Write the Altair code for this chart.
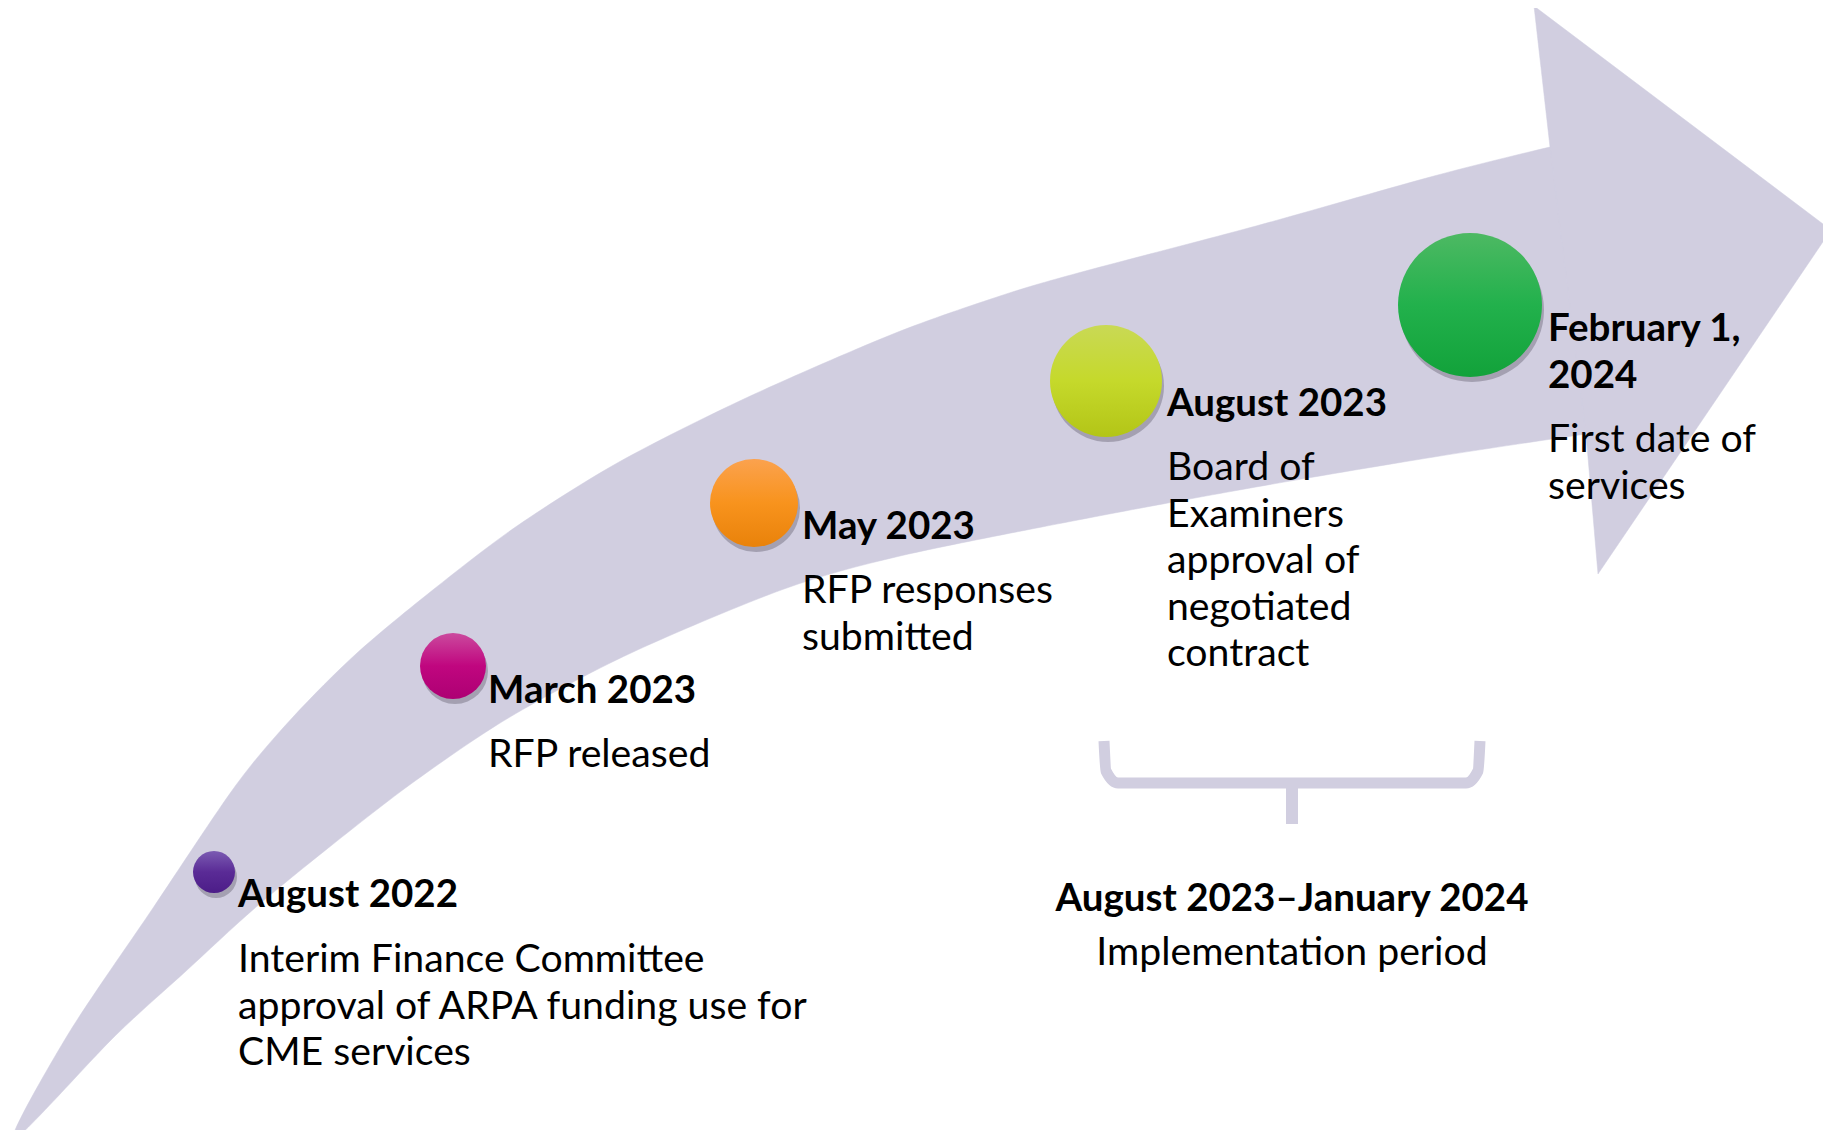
import altair as alt
import pandas as pd

# ---- values (pixel units of the 1831x1143 image) ----
# arrow shaft: upper edge from the tail to the head, then the lower edge back to the tail
shaft_x = [13, 67, 153, 236, 293, 357, 434, 517, 619, 746, 893, 1000, 1078, 1256, 1434, 1550, 1620,
           1620, 1586, 1434, 1256, 1078, 900, 784, 631, 510, 415, 332, 255, 185, 115]
shaft_y = [1140, 1036, 908, 785, 717, 653, 589, 526, 462, 398, 334, 296, 273, 226, 176, 147, 132,
           430, 434, 457, 487, 520, 556, 589, 653, 717, 781, 845, 908, 972, 1036]
# arrowhead
head_x = [1550, 1534, 1831, 1598, 1586]
head_y = [147, 6, 230, 574, 434]

# milestones
dates = ["August 2022", "March 2023", "May 2023", "August 2023", "February 1,\n2024"]
descriptions = [
    "Interim Finance Committee\napproval of ARPA funding use for\nCME services",
    "RFP released",
    "RFP responses\nsubmitted",
    "Board of\nExaminers\napproval of\nnegotiated\ncontract",
    "First date of\nservices",
]
circle_x = [214, 453, 754, 1106, 1470]
circle_y = [872, 666, 503, 381, 305]
circle_r = [21, 33, 44, 56, 72]
label_x = [238, 488, 802, 1167, 1548]
label_y = [907, 703, 539, 416, 341]
desc_y = [972, 767, 603, 480, 452]
circle_stops = [
    ["#7B5BB2", "#5A2B96", "#4C1D88"],
    ["#CB4A9E", "#C0067F", "#AD0073"],
    ["#FBA24E", "#F8931D", "#E9820A"],
    ["#C9D955", "#C5D92B", "#B3C517"],
    ["#4DB963", "#22B14C", "#12A23A"],
]

# implementation-period brace
brace_x = [1104, 1106, 1118, 1466, 1478, 1480]
brace_y = [741, 771, 783, 783, 771, 741]
stem_x = [1292, 1292]
stem_y = [783, 824]
period_title = "August 2023\u2013January 2024"
period_text = "Implementation period"
period_x = 1292
period_title_y = 911
period_text_y = 965

ARROW = "#D1CEE0"
FONT = "Lato"
FS_BOLD = 38.5
FS = 39.2

# ---- scales: picture pixels -> plot pixels (page margin 8px) ----
W, H = 1815, 1122
xs = alt.Scale(domain=[8, 8 + W], nice=False, zero=False)
ys = alt.Scale(domain=[8, 8 + H], nice=False, zero=False, reverse=True)


def X(f):
    return alt.X(f, type="quantitative", scale=xs, axis=None)


def Y(f):
    return alt.Y(f, type="quantitative", scale=ys, axis=None)


shaft_df = pd.DataFrame({"x": shaft_x, "y": shaft_y, "o": range(len(shaft_x))})
shaft = alt.Chart(shaft_df).mark_line(
    fill=ARROW, stroke=ARROW, strokeWidth=0.5, interpolate="cardinal-closed", tension=0.15
).encode(x=X("x"), y=Y("y"), order="o:Q")

head_df = pd.DataFrame({"x": head_x, "y": head_y, "o": range(len(head_x))})
head = alt.Chart(head_df).mark_line(
    fill=ARROW, stroke=ARROW, strokeWidth=0.5, interpolate="linear-closed"
).encode(x=X("x"), y=Y("y"), order="o:Q")

brace_df = pd.DataFrame({"x": brace_x, "y": brace_y, "o": range(len(brace_x))})
brace = alt.Chart(brace_df).mark_line(
    color=ARROW, strokeWidth=11, strokeJoin="round", strokeCap="butt", interpolate="monotone"
).encode(x=X("x"), y=Y("y"), order="o:Q")
stem_df = pd.DataFrame({"x": stem_x, "y": stem_y, "o": range(len(stem_x))})
stem = alt.Chart(stem_df).mark_line(color=ARROW, strokeWidth=12).encode(
    x=X("x"), y=Y("y"), order="o:Q"
)

ev = pd.DataFrame({
    "date": dates, "desc": descriptions,
    "cx": circle_x, "cy": circle_y, "r": circle_r,
    "lx": label_x, "ly": label_y, "dy": desc_y,
})
ev["size"] = (2 * ev["r"]) ** 2  # symbol size = square of the diameter
ev["i"] = range(len(ev))

layers = [shaft, head, brace, stem]

shadow = alt.Chart(ev).mark_circle(
    color="#2E2A3A", opacity=0.28, xOffset=2, yOffset=5
).encode(x=X("cx"), y=Y("cy"), size=alt.Size("size:Q", scale=None, legend=None))
layers.append(shadow)

for i, stops in enumerate(circle_stops):
    grad = alt.Gradient(
        gradient="linear",
        stops=[alt.GradientStop(offset=0, color=stops[0]),
               alt.GradientStop(offset=0.5, color=stops[1]),
               alt.GradientStop(offset=1, color=stops[2])],
        x1=0, x2=0, y1=0, y2=1,
    )
    c = alt.Chart(ev).transform_filter(alt.datum.i == i).mark_circle(
        color=grad, opacity=1
    ).encode(x=X("cx"), y=Y("cy"), size=alt.Size("size:Q", scale=None, legend=None))
    layers.append(c)

heads = alt.Chart(ev).mark_text(
    align="left", baseline="alphabetic", font=FONT, fontSize=FS_BOLD, fontWeight="bold",
    lineBreak="\n", lineHeight=47, color="#000000"
).encode(x=X("lx"), y=Y("ly"), text="date:N")
descs = alt.Chart(ev).mark_text(
    align="left", baseline="alphabetic", font=FONT, fontSize=FS,
    lineBreak="\n", lineHeight=46.5, color="#000000"
).encode(x=X("lx"), y=Y("dy"), text="desc:N")

per = pd.DataFrame({"x": [period_x, period_x], "y": [period_title_y, period_text_y],
                    "t": [period_title, period_text]})
per_title = alt.Chart(per.iloc[[0]]).mark_text(
    align="center", baseline="alphabetic", font=FONT, fontSize=FS_BOLD, fontWeight="bold",
    color="#000000"
).encode(x=X("x"), y=Y("y"), text="t:N")
per_text = alt.Chart(per.iloc[[1]]).mark_text(
    align="center", baseline="alphabetic", font=FONT, fontSize=FS, color="#000000"
).encode(x=X("x"), y=Y("y"), text="t:N")

layers += [heads, descs, per_title, per_text]

chart = alt.layer(*layers).properties(
    width=W, height=H, padding=0, background="white",
    autosize=alt.AutoSizeParams(type="none"),
).configure_view(stroke=None)

chart.save("out.html", embed_options={"renderer": "svg", "actions": False})
